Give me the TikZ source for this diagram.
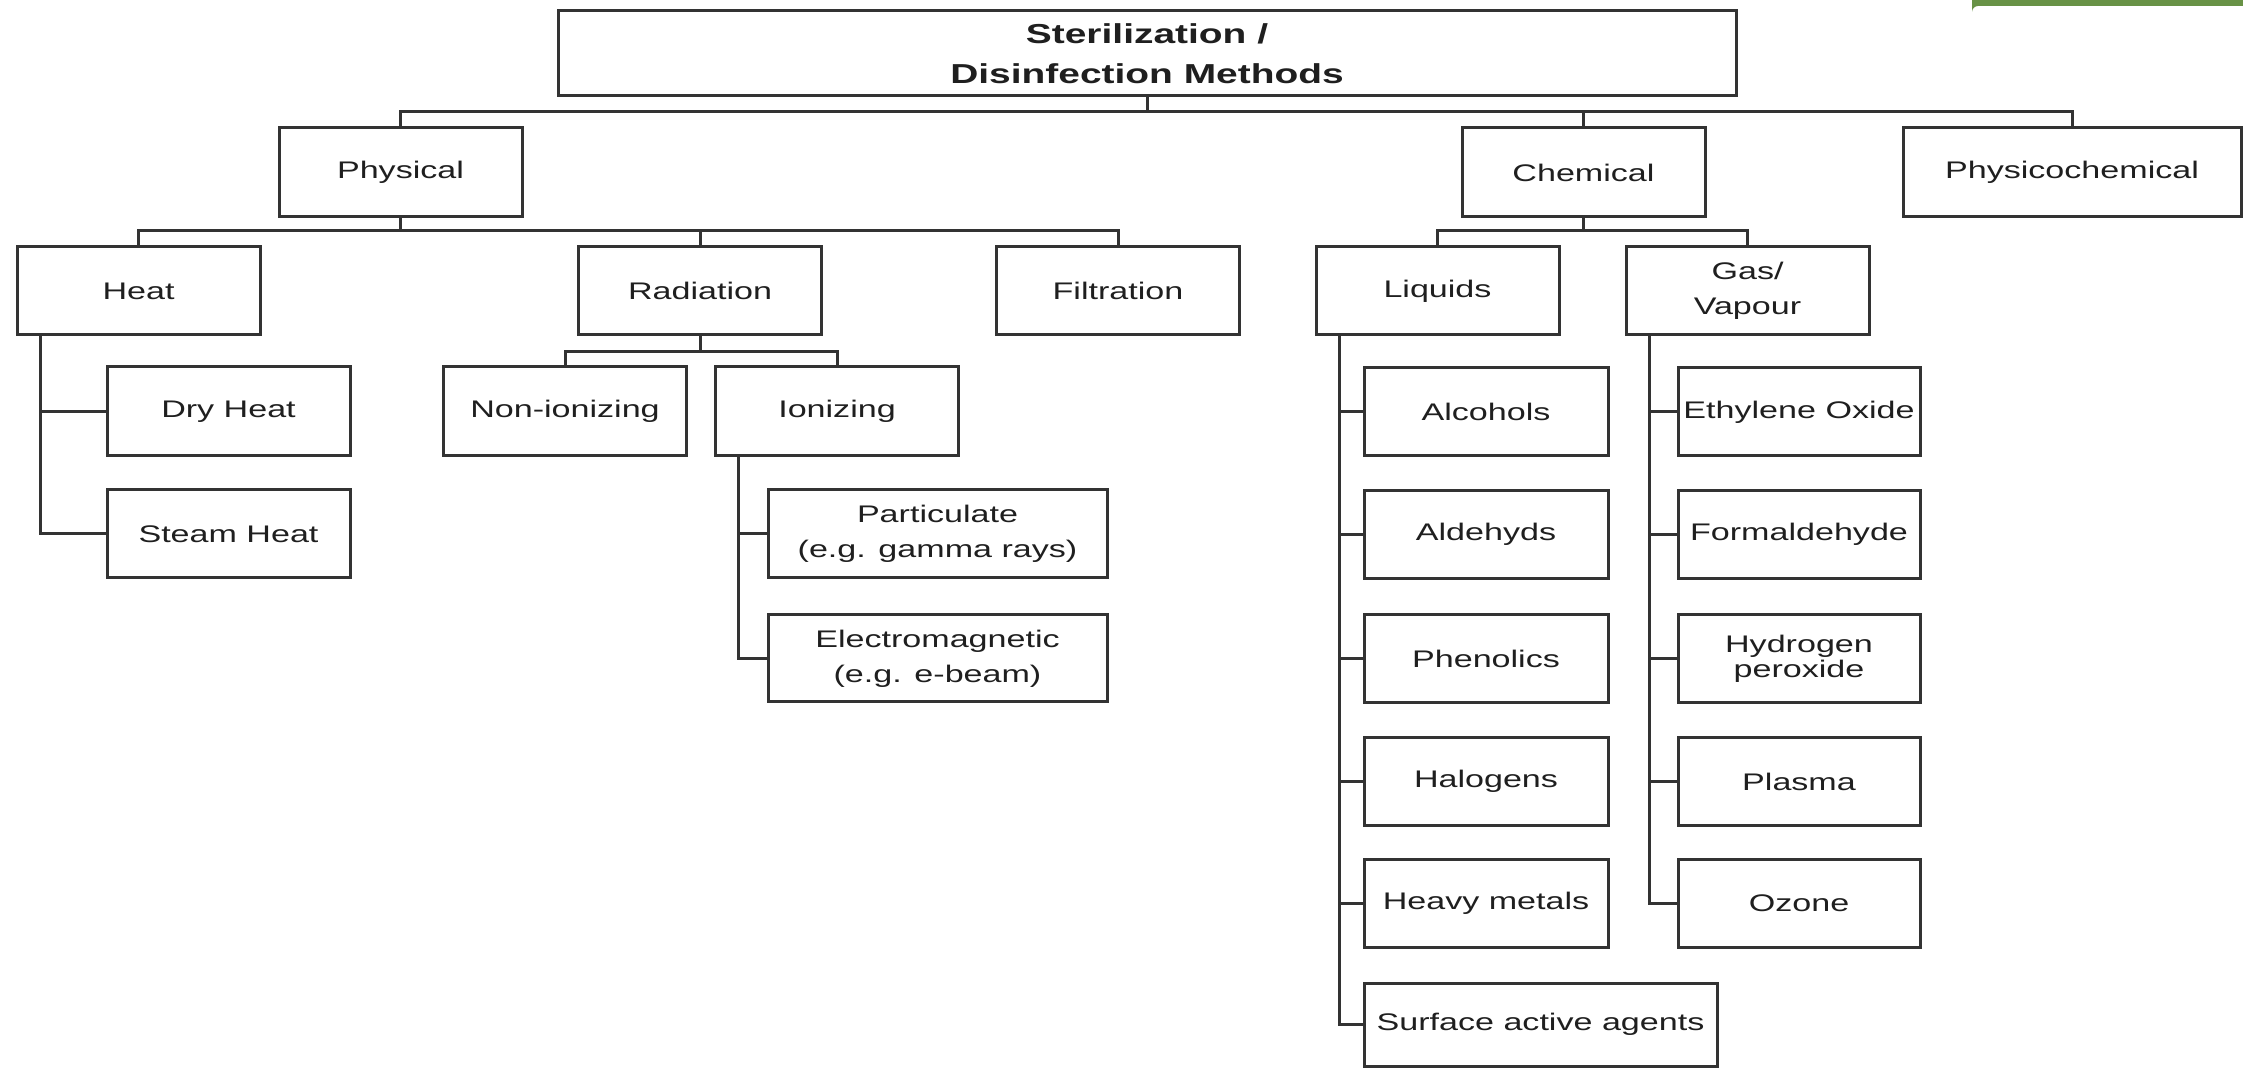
\documentclass[tikz,border=0pt]{standalone}
\usepackage{fontspec}
\setmainfont{Liberation Sans}[FakeStretch=1.42]
\usetikzlibrary{calc}
\definecolor{slidegreen}{RGB}{104,146,70}
\begin{document}
\begin{tikzpicture}[x=0.5pt,y=-0.5pt,
  bx/.style={draw=black!80, line width=1.5pt, fill=white, inner sep=0pt, align=center,
    text=black!88, font=\fontsize{12}{17.5}\selectfont},
  sz/.style 2 args={minimum width=#1*0.5pt, minimum height=#2*0.5pt},
  ln/.style={draw=black!80, line width=1.5pt}]
\useasboundingbox (0,0) rectangle (2243,1068);
% slide decoration
\fill[slidegreen] (1972,0) -- (2243,0) -- (2243,6) -- (1978,6) arc[start angle=270,end angle=180,radius=6] -- cycle;

% root
\node[bx, sz={1178}{85}, font=\bfseries\fontsize{13.7}{20}\selectfont] (top) at (1147,53.5) {Sterilization /\\Disinfection Methods};

% level 1
\node[bx, sz={243}{89}] (phys) at (400.5,172.5) {Physical};
\node[bx, sz={243}{89}] (chem) at (1583.5,172.5) {Chemical};
\node[bx, sz={338}{89}] (physchem) at (2072,172.5) {Physicochemical};

% level 2
\node[bx, sz={243}{88}] (heat) at (138.5,291) {Heat};
\node[bx, sz={243}{88}] (rad) at (700,291) {Radiation};
\node[bx, sz={243}{88}] (filt) at (1118,291) {Filtration};
\node[bx, sz={243}{88}] (liq) at (1437.5,291) {Liquids};
\node[bx, sz={243}{88}] (gas) at (1747.5,291) {Gas/\\Vapour};

% heat children
\node[bx, sz={243}{89}] (dry) at (228.5,411.5) {Dry Heat};
\node[bx, sz={243}{88}] (steam) at (228.5,534) {Steam Heat};

% radiation children
\node[bx, sz={243}{89}] (nonion) at (565,411.5) {Non-ionizing};
\node[bx, sz={243}{89}] (ion) at (837,411.5) {Ionizing};
\node[bx, sz={339}{88}] (part) at (937.5,534) {Particulate\\(e.g. gamma rays)};
\node[bx, sz={339}{87}] (em) at (937.5,658.5) {Electromagnetic\\(e.g. e-beam)};

% liquids children
\node[bx, sz={244}{88}] (alc) at (1486,412) {Alcohols};
\node[bx, sz={244}{88}] (ald) at (1486,534.5) {Aldehyds};
\node[bx, sz={244}{88}] (phen) at (1486,658.5) {Phenolics};
\node[bx, sz={244}{88}] (halo) at (1486,781.5) {Halogens};
\node[bx, sz={244}{88}] (heavy) at (1486,903.5) {Heavy metals};
\node[bx, sz={353}{83}] (surf) at (1540.5,1024.5) {Surface active agents};

% gas children
\node[bx, sz={242}{88}] (eth) at (1799,412) {Ethylene Oxide};
\node[bx, sz={242}{88}] (form) at (1799,534.5) {Formaldehyde};
\node[bx, sz={242}{88}, font=\fontsize{12}{12.5}\selectfont] (hyd) at (1799,658.5) {Hydrogen\\peroxide};
\node[bx, sz={242}{88}] (plasma) at (1799,781.5) {Plasma};
\node[bx, sz={242}{88}] (ozone) at (1799,903.5) {Ozone};

% connectors: tree bars
\draw[ln] (top.south) -- ++(0,14) -| (phys.north);
\draw[ln] (top.south) -- ++(0,14) -| (chem.north);
\draw[ln] (top.south) -- ++(0,14) -| (physchem.north);

\draw[ln] (phys.south) -- ++(0,12) -| (heat.north);
\draw[ln] (phys.south) -- ++(0,12) -| (rad.north);
\draw[ln] (phys.south) -- ++(0,12) -| (filt.north);

\draw[ln] (chem.south) -- ++(0,12) -| (liq.north);
\draw[ln] (chem.south) -- ++(0,12) -| (gas.north);

\draw[ln] (rad.south) -- ++(0,15) -| (nonion.north);
\draw[ln] (rad.south) -- ++(0,15) -| (ion.north);

% side stems
\coordinate (hs) at ($(heat.south west)+(25,0)$);
\draw[ln] (hs) |- (dry.west);
\draw[ln] (hs) |- (steam.west);

\coordinate (is) at ($(ion.south west)+(24,0)$);
\draw[ln] (is) |- (part.west);
\draw[ln] (is) |- (em.west);

\coordinate (ls) at ($(liq.south west)+(24.5,0)$);
\foreach \c in {alc,ald,phen,halo,heavy,surf} \draw[ln] (ls) |- (\c.west);

\coordinate (gs) at ($(gas.south west)+(25,0)$);
\foreach \c in {eth,form,hyd,plasma,ozone} \draw[ln] (gs) |- (\c.west);
\end{tikzpicture}
\end{document}
